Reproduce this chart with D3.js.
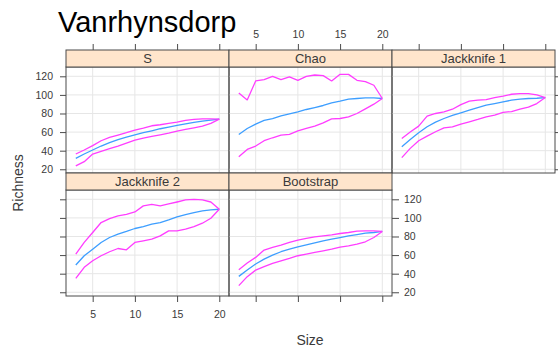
<!DOCTYPE html>
<html>
<head>
<meta charset="utf-8">
<script src="https://cdn.jsdelivr.net/npm/d3@7/dist/d3.min.js"></script>
<style>
  html, body { margin: 0; padding: 0; background: #fff; }
  svg { display: block; }
  text { font-family: "Liberation Sans", Arial, sans-serif; }
</style>
</head>
<body>
<svg id="chart" width="558" height="354"></svg>
<script>
// ---- data ----
const sizes = [3,4,5,6,7,8,9,10,11,12,13,14,15,16,17,18,19,20];
const panelNames = ["S", "Chao", "Jackknife 1", "Jackknife 2", "Bootstrap"];
const xTicks = [5, 10, 15, 20];
const yTicks = [20, 40, 60, 80, 100, 120];

const sMean  = [31.8,36.4,40.7,45.0,48.6,51.8,54.6,57.1,59.3,61.4,63.6,65.4,67.1,68.9,70.4,71.8,72.9,73.9];
const sUpper = [36.4,40.7,45.4,50.7,54.3,56.8,59.3,62.1,64.3,66.8,67.9,69.3,70.7,72.5,73.6,74.3,74.3,73.9];
const sLower = [23.6,28.2,36.4,39.3,42.1,45.0,48.2,51.4,53.6,55.4,57.1,58.9,61.1,62.9,64.6,66.4,69.3,73.9];

const chaoMean  = [57.5,63.9,68.6,72.5,74.6,77.5,79.6,81.8,84.3,86.4,88.6,91.4,93.2,95.4,96.1,96.8,96.8,96.1];
const chaoUpper = [102.1,94.6,115.0,116.4,120.0,116.4,119.3,115.7,120.0,121.4,120.7,115.0,122.1,122.1,115.7,114.3,110.4,96.1];
const chaoLower = [33.6,41.4,45.0,50.7,53.9,56.8,57.5,61.4,63.9,66.4,70.0,74.3,74.6,76.4,80.0,85.0,90.0,96.1];

const jack1Mean  = [44.3,52.1,59.3,65.7,70.7,74.6,77.9,80.7,83.6,86.4,88.9,90.7,92.5,94.3,95.4,96.1,96.4,97.1];
const jack1Upper = [53.2,60.0,66.4,77.1,80.0,81.8,84.6,89.6,93.2,94.3,95.0,97.1,98.6,100.7,101.4,101.4,100.0,97.1];
const jack1Lower = [32.5,42.5,50.7,55.7,60.4,64.6,65.7,68.6,71.1,73.6,76.4,78.2,81.1,82.1,84.6,86.8,90.7,97.1];

const jack2Mean  = [49.3,59.3,66.4,73.6,78.9,82.5,85.4,88.6,90.7,93.2,95.0,97.9,101.1,103.6,105.7,107.5,108.6,109.3];
const jack2Upper = [61.1,73.6,84.3,95.0,99.3,102.1,103.9,106.4,112.9,114.6,112.9,115.0,117.1,119.3,120.0,119.3,117.1,109.3];
const jack2Lower = [35.0,46.8,53.9,59.3,63.6,67.1,65.7,73.6,75.4,77.1,80.7,86.1,86.1,87.9,90.7,94.3,99.6,109.3];

const bootMean  = [37.1,43.9,50.4,55.7,60.0,63.6,66.4,68.9,71.1,73.2,75.4,77.1,78.9,80.7,82.1,83.6,84.3,85.4];
const bootUpper = [44.3,51.4,57.5,65.4,68.2,70.7,73.6,76.1,77.9,79.6,80.7,81.8,83.2,84.3,85.7,86.1,86.1,85.4];
const bootLower = [27.1,36.8,43.9,47.5,51.1,53.9,56.4,59.3,61.1,62.9,64.6,66.4,68.6,70.0,71.8,74.3,78.9,85.4];

const panelSeries = [
  [sUpper, sMean, sLower],
  [chaoUpper, chaoMean, chaoLower],
  [jack1Upper, jack1Mean, jack1Lower],
  [jack2Upper, jack2Mean, jack2Lower],
  [bootUpper, bootMean, bootLower]
];

// ---- layout ----
const svg = d3.select("#chart");
const colLeft = [66, 229, 392];
const pw = 163, ph = 106, stripH = 17;
const rowStripTop = [50, 173];
const axisCol = "#4a4a4a";
const textCol = "#3a3a3a";
const seriesColors = ["#ff3dff", "#3d9eff", "#ff3dff"];

const x = d3.scaleLinear().domain([1.84, 21.15]).range([0, pw]);
const y = d3.scaleLinear().domain([16, 130]).range([ph, 0]);

svg.append("text").attr("x", 58).attr("y", 32)
  .attr("font-size", 29).attr("fill", "#000").text("Vanrhynsdorp");

const defs = svg.append("defs");
defs.append("clipPath").attr("id", "pclip")
  .append("rect").attr("width", pw).attr("height", ph);

function styleAxis(g) {
  g.select(".domain").remove();
  g.selectAll(".tick line").attr("stroke", axisCol);
  g.selectAll(".tick text").attr("fill", textCol)
    .attr("font-size", 10.5)
    .attr("font-family", "'Liberation Sans', Arial, sans-serif");
}

const line = d3.line().x((d, i) => x(sizes[i])).y(d => y(d));

panelNames.forEach((name, i) => {
  const col = i % 3, row = Math.floor(i / 3);
  const sx = colLeft[col], sy = rowStripTop[row];
  const py = sy + stripH;
  const g = svg.append("g").attr("transform", `translate(${sx},${py})`);

  // grid
  g.append("g").selectAll("line.vx").data(xTicks).join("line")
    .attr("x1", d => x(d)).attr("x2", d => x(d)).attr("y1", 0).attr("y2", ph)
    .attr("stroke", "#e6e6e6").attr("stroke-width", 1);
  g.append("g").selectAll("line.hy").data(yTicks).join("line")
    .attr("y1", d => y(d)).attr("y2", d => y(d)).attr("x1", 0).attr("x2", pw)
    .attr("stroke", "#e6e6e6").attr("stroke-width", 1);

  // series
  const lg = g.append("g").attr("clip-path", "url(#pclip)");
  const order = [1, 0, 2];
  order.forEach(k => {
    lg.append("path").datum(panelSeries[i][k])
      .attr("d", line).attr("fill", "none")
      .attr("stroke", seriesColors[k]).attr("stroke-width", 1.3)
      .attr("stroke-linejoin", "round");
  });

  // border
  g.append("rect").attr("x", 0).attr("y", 0).attr("width", pw).attr("height", ph)
    .attr("fill", "none").attr("stroke", axisCol).attr("stroke-width", 1);

  // strip
  const s = svg.append("g").attr("transform", `translate(${sx},${sy})`);
  s.append("rect").attr("width", pw).attr("height", stripH)
    .attr("fill", "#ffe5cc").attr("stroke", axisCol).attr("stroke-width", 1);
  s.append("text").attr("x", pw / 2).attr("y", stripH / 2 + 4.6)
    .attr("text-anchor", "middle").attr("font-size", 13).attr("fill", textCol).text(name);

  // axes
  if (row === 0) {
    const ax = d3.axisTop(x).tickValues(xTicks).tickSize(6).tickPadding(6)
      .tickFormat(col === 1 ? d3.format("d") : () => "");
    svg.append("g").attr("transform", `translate(${sx},${sy})`).call(ax).call(styleAxis);
  }
  if (row === 1) {
    const ax = d3.axisBottom(x).tickValues(xTicks).tickSize(6).tickPadding(9)
      .tickFormat(col === 0 ? d3.format("d") : () => "");
    svg.append("g").attr("transform", `translate(${sx},${py + ph})`).call(ax).call(styleAxis);
  }
  if (col === 0) {
    const ax = d3.axisLeft(y).tickValues(yTicks).tickSize(6).tickPadding(7)
      .tickFormat(row === 0 ? d3.format("d") : () => "");
    svg.append("g").attr("transform", `translate(${sx},${py})`).call(ax).call(styleAxis);
  }
  const isRightEdge = (col === 2) || (row === 1 && col === 1);
  if (isRightEdge) {
    const ax = d3.axisRight(y).tickValues(yTicks).tickSize(7).tickPadding(5)
      .tickFormat(row === 1 ? d3.format("d") : () => "");
    svg.append("g").attr("transform", `translate(${sx + pw},${py})`).call(ax).call(styleAxis);
  }
});

// axis titles
svg.append("text").attr("x", 310).attr("y", 345)
  .attr("text-anchor", "middle").attr("font-size", 14).attr("fill", textCol).text("Size");
svg.append("text").attr("transform", "translate(23,183) rotate(-90)")
  .attr("text-anchor", "middle").attr("font-size", 14).attr("fill", textCol).text("Richness");
</script>
</body>
</html>
